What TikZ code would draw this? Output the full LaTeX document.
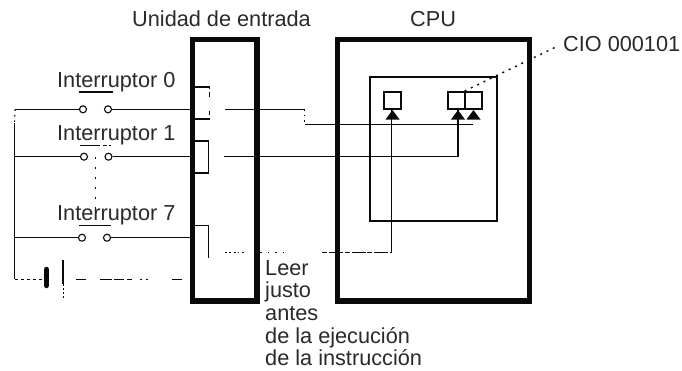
\documentclass[tikz,border=0pt]{standalone}
\usepackage{fontspec}
\setmainfont{Liberation Sans}
\usetikzlibrary{arrows.meta,calc}
\definecolor{ink}{HTML}{0A0A0A}
\definecolor{txt}{HTML}{2A2A2A}
\tikzset{
  x=1pt,y=-1pt,
  lbl/.style={text=txt,font=\fontsize{21.7}{23}\selectfont,inner sep=0pt,anchor=base west},
  wire/.style={draw=ink,line width=1.1pt},
  dotwire/.style={draw=ink,line width=1.1pt,dash pattern=on 1.5pt off 4pt},
  thickbox/.style={draw=ink,line width=5.5pt,fill=white,inner sep=0pt,minimum width=0pt},
  innerbox/.style={draw=ink,line width=2.2pt,inner sep=0pt},
  regbox/.style={draw=ink,line width=1.9pt,fill=white,inner sep=0pt,minimum width=17pt,minimum height=17pt},
  contact/.style={circle,draw=ink,line width=1.1pt,fill=white,inner sep=0pt,minimum size=7pt},
  tip/.style={draw=none,fill=ink},
}
\begin{document}
\begin{tikzpicture}
\useasboundingbox (0,0) rectangle (682,370);
\fill[white] (0,0) rectangle (682,370);
% frames
\node[thickbox,minimum width=64.5pt,minimum height=261.5pt] (unit) at (224.75,170.25) {};
\node[thickbox,minimum width=192pt,minimum height=261.5pt] (cpu) at (433.5,170.25) {};
\node[innerbox,minimum width=127.5pt,minimum height=144pt] (mem) at (433.5,149) {};
% registers
\node[regbox] (r0) at (392.5,100.5) {};
\node[regbox] (r1) at (456.5,100.5) {};
\node[regbox] (r2) at (473.5,100.5) {};
% coordinates for wires
\coordinate (railtop) at (15,109.3);
\coordinate (railgap) at (14.5,123);
\coordinate (rail1) at (14.5,156.7);
\coordinate (rail7) at (14.5,237.7);
\coordinate (railbot) at (14.5,279);
% switches
\node[contact] (a0) at (83,109.3) {};
\node[contact] (b0) at (108,109.3) {};
\node[contact] (a1) at (84,156.7) {};
\node[contact] (b1) at (108.5,156.7) {};
\node[contact] (a7) at (82,237.7) {};
\node[contact] (b7) at (107,237.7) {};
\coordinate (u0) at (190,109.3);
\coordinate (u1) at (190,156.7);
\coordinate (u7) at (190,237.7);
\draw[wire] (railtop) -- (a0) (b0) -- (u0);
\draw[wire] (rail1) -- (a1) (b1) -- (u1);
\draw[wire] (rail7) -- (a7) (b7) -- (u7);
\draw[wire] (railgap) -- (railbot);
\draw[dotwire] (railtop) -- (railgap);
% switch bars
\coordinate (bar0a) at (79,92); \coordinate (bar0b) at (113,92);
\coordinate (bar1a) at (80,145); \coordinate (bar1b) at (111,145);
\coordinate (bar7a) at (79,225.7); \coordinate (bar7b) at (111,225.7);
\coordinate (gang0) at (95.5,157); \coordinate (gang1) at (95.5,222);
\draw[wire] (bar0a) -- (bar0b);
\draw[draw=ink,line width=1pt,dash pattern=on 20pt off 3pt on 4pt off 2pt] (bar1a) -- (bar1b);
\draw[wire] (bar7a) -- (bar7b);
\draw[draw=ink,line width=1.2pt,dash pattern=on 2pt off 8pt] (gang0) -- (gang1);
% battery
\coordinate (cellA) at (46.5,279);
\coordinate (plusT) at (63,260);
\coordinate (plusM) at (63,284);
\coordinate (plusB) at (63,300);
\coordinate (batStart) at (76,279);
\coordinate (batEnd) at (190,279);
\draw[draw=ink,line width=5.5pt,line cap=round] (46.5,269.5) -- (46.5,285.5);
\draw[wire] (plusT) -- (plusM);
\draw[draw=ink,line width=1pt,dash pattern=on 2pt off 2pt] (plusM) -- (plusB);
\draw[draw=ink,line width=1pt,dash pattern=on 3pt off 3pt] (railbot) -- (cellA);
\draw[draw=ink,line width=1pt,dash pattern=on 10pt off 14pt on 12pt off 2pt on 10pt off 3pt on 5pt off 8pt on 2pt off 4pt on 2pt off 24pt] (batStart) -- (batEnd);
% contacts in the input unit
\coordinate (c0a) at (195,87); \coordinate (c0b) at (209.5,87);
\coordinate (c0c) at (209.5,119); \coordinate (c0d) at (195,119);
\coordinate (c1a) at (195,141); \coordinate (c1b) at (208.5,141);
\coordinate (c1c) at (208.5,173); \coordinate (c1d) at (195,173);
\coordinate (c7a) at (195,225.7); \coordinate (c7b) at (208.5,225.7);
\coordinate (c7c) at (208.5,258);
\draw[wire] (c0a) -- (c0b);
\draw[draw=ink,line width=1pt,dash pattern=on 2pt off 3pt on 5pt off 14pt on 4pt off 3pt] (c0b) -- (c0c);
\draw[wire] (c0c) -- (c0d);
\draw[wire] (c1a) -- (c1b) -- (c1c) -- (c1d);
\draw[wire] (c7a) -- (c7b) -- (c7c);
% signals to CPU
\coordinate (s0a) at (225,109.3);
\coordinate (s0b) at (304.5,109.3);
\coordinate (s0c) at (304.5,124.5);
\coordinate (s0d) at (473,124.5);
\coordinate (s1a) at (224,156.7);
\coordinate (s1b) at (458,156.7);
\coordinate (s7a) at (225,252.7);
\coordinate (s7b) at (244,252.7);
\coordinate (s7c) at (260,252.7);
\coordinate (s7d) at (285,252.7);
\coordinate (s7e) at (322,252.7);
\coordinate (s7f) at (391.5,252.7);
\draw[wire] (s0a) -- (s0b);
\draw[dotwire] (s0b) -- (s0c);
\draw[wire] (s0c) -- (s0d);
\draw[wire] (s1a) -- (s1b) -- (r1.south -| s1b);
\draw[draw=ink,line width=1pt,dash pattern=on 2pt off 2pt on 1.5pt off 3pt] (s7a) -- (s7b);
\draw[draw=ink,line width=1pt,dash pattern=on 1.5pt off 6pt] (s7c) -- (s7d);
\draw[draw=ink,line width=1pt,dash pattern=on 5pt off 2pt on 14pt off 1.5pt] (s7e) -- (s7f);
\draw[wire] (s7f) -- (s7f |- r0.south);
% arrowheads
\fill[tip] (385.5,119.5) -- (399.5,119.5) -- (392.5,110) -- cycle;
\fill[tip] (451,119.5) -- (465,119.5) -- (458,110) -- cycle;
\fill[tip] (466.5,119.5) -- (480.5,119.5) -- (473.5,110) -- cycle;
% leader
\coordinate (cioEnd) at (556.5,46.7);
\draw[draw=ink,line width=1.4pt,dash pattern=on 2pt off 5pt] (r2.north west) ++(0.5,0) -- (cioEnd);
% labels
\node[lbl] (t1) at (132,26) {Unidad de entrada};
\node[lbl] (t2) at (410,26) {CPU};
\node[lbl] (t3) at (563,51) {CIO 000101};
\node[lbl] (s0) at (57,87) {Interruptor 0};
\node[lbl] (s1) at (57,140) {Interruptor 1};
\node[lbl] (s7) at (57,220) {Interruptor 7};
\node[lbl] (n1) at (265,275.5) {Leer};
\node[lbl] (n2) at (265,297.5) {justo};
\node[lbl] (n3) at (265,320.5) {antes};
\node[lbl] (n4) at (265,343) {de la ejecución};
\node[lbl] (n5) at (265,365.5) {de la instrucción};
\end{tikzpicture}
\end{document}
